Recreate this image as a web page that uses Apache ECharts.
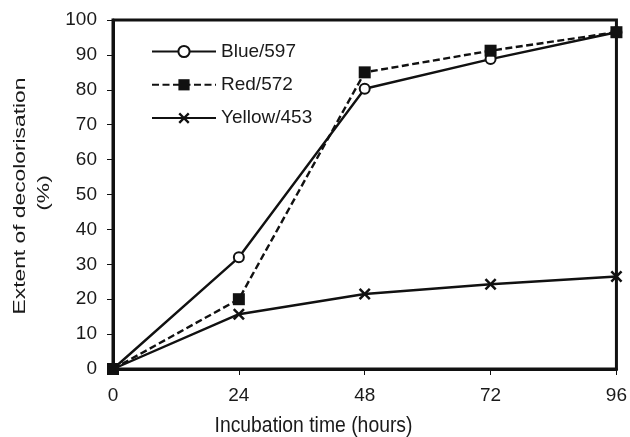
<!DOCTYPE html>
<html><head><meta charset="utf-8">
<script src="https://cdn.jsdelivr.net/npm/echarts@6/dist/echarts.min.js"></script>
<style>html,body{margin:0;padding:0;background:#fff}#c{width:630px;height:437px}</style>
</head><body><div id="c"></div>
<script>
const hours = [0, 24, 48, 72, 96];
const blue597 = [0, 32, 80.3, 88.8, 96.5];
const red572 = [0, 20, 85, 91.2, 96.5];
const yellow453 = [0, 15.7, 21.5, 24.3, 26.5];
const seriesNames = ['Blue/597', 'Red/572', 'Yellow/453'];
const xTitle = 'Incubation time (hours)';
const yTitle = ['Extent of decolorisation', '(%)'];

const crossPath = 'path://M0,1.5 L1.5,0 L5,3.5 L8.5,0 L10,1.5 L6.5,5 L10,8.5 L8.5,10 L5,6.5 L1.5,10 L0,8.5 L3.5,5 Z';
const pair = arr => hours.map((h, i) => [h, arr[i]]);
const font = 'Liberation Sans, Arial, sans-serif';
const txt = '#1a1a1a';

const chart = echarts.init(document.getElementById('c'));
chart.setOption({
  animation: false,
  textStyle: { fontFamily: font },
  grid: { left: 113, right: 12, top: 20, bottom: 68, show: true, borderColor: '#111', borderWidth: 3, backgroundColor: 'transparent' },
  legend: {
    orient: 'vertical', left: 146, top: 37, itemWidth: 64, itemHeight: 14, itemGap: 14.3,
    textStyle: { fontSize: 19, color: txt, fontFamily: font },
    data: seriesNames
  },
  graphic: [
    { type: 'text', x: 313.5, y: 426, scaleX: 0.88, silent: true,
      style: { text: xTitle, fontSize: 22, fontFamily: font, fill: txt, align: 'center', verticalAlign: 'middle' } },
    { type: 'text', x: 20, y: 196, rotation: Math.PI / 2, scaleX: 1.34, silent: true,
      style: { text: yTitle[0], fontSize: 17, fontFamily: font, fill: txt, align: 'center', verticalAlign: 'middle' } },
    { type: 'text', x: 44, y: 193, rotation: Math.PI / 2, scaleX: 1.34, silent: true,
      style: { text: yTitle[1], fontSize: 17, fontFamily: font, fill: txt, align: 'center', verticalAlign: 'middle' } }
  ],
  xAxis: {
    type: 'value', min: 0, max: 96, interval: 24,
    axisLine: { lineStyle: { color: '#111', width: 3 } },
    axisTick: { show: true, length: 6, lineStyle: { color: '#111', width: 1 } },
    axisLabel: { fontSize: 19, color: txt, margin: 17 },
    splitLine: { show: false }
  },
  yAxis: {
    type: 'value', min: 0, max: 100, interval: 10,
    axisLine: { lineStyle: { color: '#111', width: 3 } },
    axisTick: { show: true, length: 6, lineStyle: { color: '#111', width: 1 } },
    axisLabel: { fontSize: 19, color: txt, margin: 16 },
    splitLine: { show: false }
  },
  series: [
    { name: seriesNames[0], type: 'line', data: pair(blue597), symbol: 'circle', symbolSize: 10,
      lineStyle: { color: '#111', width: 2.4 }, itemStyle: { color: '#fff', borderColor: '#111', borderWidth: 2 } },
    { name: seriesNames[1], type: 'line', data: pair(red572), symbol: 'rect', symbolSize: 12,
      lineStyle: { color: '#111', width: 2.4, type: [7, 3.5] }, itemStyle: { color: '#111', borderColor: '#111', borderWidth: 0 } },
    { name: seriesNames[2], type: 'line', data: pair(yellow453), symbol: crossPath, symbolSize: 12,
      lineStyle: { color: '#111', width: 2.4 }, itemStyle: { color: '#111', borderWidth: 0 } }
  ]
});
</script></body></html>
